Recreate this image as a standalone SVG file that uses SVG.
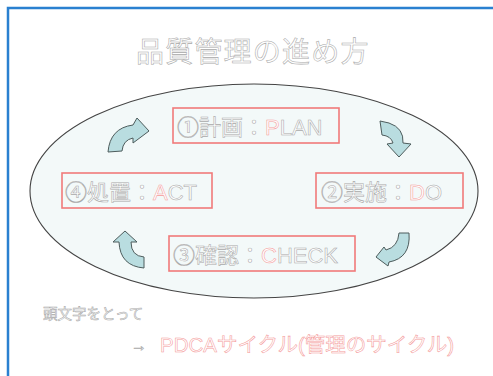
<svg xmlns="http://www.w3.org/2000/svg" width="493" height="376" viewBox="0 0 493 376">
<style>
.t{font-family:"Liberation Sans","Noto Sans CJK JP",sans-serif;fill:#fff;stroke:#a8a8a8;stroke-width:0.55}
.p{stroke:#f49a9a}
.box{fill:none;stroke:#f07a7a;stroke-width:1.6}
.arr{fill:#b9dde0;stroke:#4d5c5c;stroke-width:1}
</style>
<rect x="0" y="0" width="493" height="376" fill="#fff"/>
<rect x="8" y="8" width="500" height="390" fill="none" stroke="#2a80d0" stroke-width="2.5"/>
<text class="t" x="136" y="62" font-size="28" letter-spacing="1.2" stroke="#c8c8c8">品質管理の進め方</text>
<g id="cycle">
<ellipse cx="254" cy="191" rx="224" ry="107" fill="#f3f9f9" stroke="#444" stroke-width="1.1"/>
</g>
<g id="plan">
<rect class="box" x="173" y="108" width="166" height="35"/>
<text class="t" x="177" y="135" font-size="22">①計画：<tspan class="p">P</tspan>LAN</text>
</g>
<g id="do">
<rect class="box" x="316" y="173" width="147" height="35"/>
<text class="t" x="321" y="200" font-size="22">②実施：<tspan class="p">D</tspan>O</text>
</g>
<g id="check">
<rect class="box" x="169" y="236" width="186" height="35"/>
<text class="t" x="173" y="263" font-size="22">③確認：<tspan class="p">C</tspan>HECK</text>
</g>
<g id="act">
<rect class="box" x="62" y="173" width="150" height="35"/>
<text class="t" x="65" y="200" font-size="22">④処置：<tspan class="p">A</tspan>CT</text>
</g>
<g id="connectors">
<path class="arr" d="M108,152 Q110,128 133,125 L137,118 L149,131 L133,143 L133,138 Q123,140 122,151 Z"/>
<path class="arr" d="M380,121 L389,123 Q404,128 403,143 L411,144 L399,157 L387,144 L393,143 Q391,136 382,135 Z"/>
<path class="arr" d="M399,233 L409,233 Q411,258 389,262 L388,266 L376,257 L384,247 L386,250 Q398,247 399,233 Z"/>
<path class="arr" d="M125,231 L137,242 L131,242 Q131,256 144,257 L144,268 Q120,266 119,242 L113,242 Z"/>
</g>
<text class="t" x="43" y="319" font-size="14.5">頭文字をとって</text>
<text class="t" x="131" y="351" font-size="16">→</text>
<text class="t p" x="160" y="352" font-size="20.5">PDCAサイクル(管理のサイクル)</text>
</svg>
